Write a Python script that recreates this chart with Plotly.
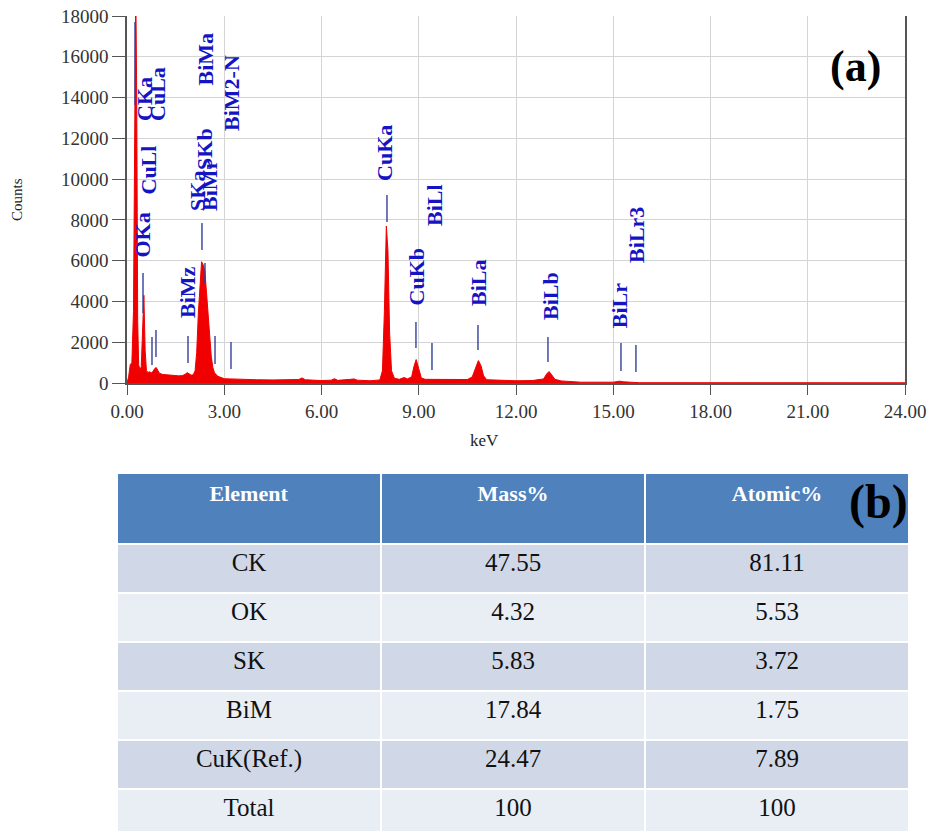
import plotly.graph_objects as go

# ---- EDS spectrum (energy in keV, counts) ----
energy_kev = [
    0.00, 0.05, 0.10, 0.15, 0.20, 0.24, 0.27, 0.30, 0.33, 0.36, 0.40, 0.44, 0.48, 0.52,
    0.56, 0.60, 0.65, 0.70, 0.75, 0.80, 0.85, 0.90, 0.95, 1.00, 1.10, 1.20, 1.30, 1.40,
    1.50, 1.60, 1.70, 1.80, 1.85, 1.90, 1.95, 2.00, 2.05, 2.10, 2.15, 2.20, 2.25, 2.30,
    2.35, 2.40, 2.45, 2.50, 2.55, 2.60, 2.65, 2.70, 2.80, 2.90, 3.00, 3.20, 3.50, 4.00,
    4.50, 5.00, 5.30, 5.40, 5.50, 6.00, 6.30, 6.40, 6.50, 6.90, 7.00, 7.10, 7.50, 7.80,
    7.88, 7.94, 8.00, 8.05, 8.10, 8.16, 8.25, 8.40, 8.55, 8.65, 8.78, 8.85, 8.92, 9.00,
    9.08, 9.20, 9.50, 10.00, 10.50, 10.65, 10.75, 10.84, 10.92, 11.00, 11.10, 11.50,
    12.00, 12.50, 12.85, 12.95, 13.02, 13.10, 13.20, 13.40, 13.70, 14.00, 15.00, 15.20,
    15.30, 15.70, 15.80, 24.00,
]
counts = [
    0, 300, 900, 1000, 3500, 12000, 19500, 14000, 3000, 900, 650, 800, 2500, 4300,
    1600, 600, 520, 550, 500, 560, 700, 760, 620, 480, 420, 400, 390, 370,
    360, 350, 360, 430, 510, 480, 420, 380, 420, 600, 1500, 3400, 5000, 5950,
    5800, 5500, 4500, 3300, 2200, 1300, 750, 500, 330, 250, 210, 200, 180, 160,
    150, 140, 170, 250, 160, 120, 140, 210, 130, 180, 200, 140, 110, 150,
    600, 3500, 7700, 6500, 2500, 600, 230, 180, 270, 200, 300, 800, 1150, 700,
    250, 180, 170, 150, 170, 300, 700, 1100, 850, 350, 160, 130,
    110, 120, 200, 450, 560, 400, 180, 100, 80, 40, 40, 90,
    60, 40, 15, 10,
]

# ---- peak identification: marker line energy and its count span ----
marker_names = ["CKa", "OKa", "CuLl", "CuLa", "BiMz", "SKa", "BiMa", "BiMr", "BiM2-N",
                "CuKa", "CuKb", "BiLl", "BiLa", "BiLb", "BiLr", "BiLr3"]
marker_kev = [0.247, 0.494, 0.771, 0.894, 1.882, 2.313, 2.406, 2.715, 3.208,
              8.020, 8.914, 9.408, 10.827, 12.986, 15.238, 15.700]
marker_low = [13636, 3434, 883, 1275, 981, 6524, 4905, 932, 687,
              7897, 1717, 638, 1619, 1030, 589, 540]
marker_high = [17707, 5396, 2256, 2600, 2305, 7848, 5886, 2305, 2011,
               9221, 2992, 1962, 2845, 2256, 1962, 1864]

# ---- peak label text: centre energy and the count level of the text foot ----
label_text = ["CKa", "CuLa", "CuLl", "OKa", "BiMz", "SKa", "BiMr", "SKb", "BiMa", "BiM2-N",
              "CuKa", "CuKb", "BiLl", "BiLa", "BiLb", "BiLr", "BiLr3"]
label_kev = [0.555, 0.956, 0.648, 0.463, 1.851, 2.19, 2.56, 2.406, 2.406, 3.239,
             7.958, 8.945, 9.500, 10.858, 13.05, 15.20, 15.73]
label_base = [12753, 12753, 9123, 6033, 3090, 8339, 8339, 10350, 14519, 12263,
              9810, 3728, 7603, 3679, 2992, 2600, 5788]

# ---- quantification table ----
elements = ["CK", "OK", "SK", "BiM", "CuK(Ref.)", "Total"]
mass_pct = [47.55, 4.32, 5.83, 17.84, 24.47, 100]
atomic_pct = [81.11, 5.53, 3.72, 1.75, 7.89, 100]
header_cols = ["Element", "Mass%", "Atomic%"]

x_ticks = [0, 3, 6, 9, 12, 15, 18, 21, 24]
y_ticks = [0, 2000, 4000, 6000, 8000, 10000, 12000, 14000, 16000, 18000]

W, H = 931, 831
SERIF = "Liberation Serif, Times New Roman, serif"
BLUE = "#1414c4"


def px_x(p):
    return p / W


def px_y(p):
    return 1 - p / H


fig = go.Figure()

fig.add_trace(go.Scatter(
    x=energy_kev, y=counts, mode="lines",
    line=dict(color="#f00000", width=1),
    fill="tozeroy", fillcolor="#f00000",
    hoverinfo="skip", showlegend=False, cliponaxis=True,
))

mx, my = [], []
for k, lo, hi in zip(marker_kev, marker_low, marker_high):
    mx += [k, k, None]
    my += [lo, hi, None]
fig.add_trace(go.Scatter(
    x=mx, y=my, mode="lines",
    line=dict(color="#33409a", width=1.4),
    hoverinfo="skip", showlegend=False,
))

annotations = []
for t, k, b in zip(label_text, label_kev, label_base):
    annotations.append(dict(
        x=k, y=b, xref="x", yref="y", text=f"<b>{t}</b>", showarrow=False,
        textangle=-90, xanchor="center", yanchor="bottom",
        font=dict(family=SERIF, size=22, color=BLUE),
    ))

annotations += [
    dict(x=px_x(17), y=px_y(200), xref="paper", yref="paper", text="Counts",
         showarrow=False, textangle=-90, xanchor="center", yanchor="middle",
         font=dict(family=SERIF, size=15, color="#222")),
    dict(x=px_x(485), y=px_y(440), xref="paper", yref="paper", text="keV",
         showarrow=False, xanchor="center", yanchor="middle",
         font=dict(family=SERIF, size=17, color="#222")),
    dict(x=px_x(855), y=px_y(66), xref="paper", yref="paper", text="<b>(a)</b>",
         showarrow=False, xanchor="center", yanchor="middle",
         font=dict(family=SERIF, size=44, color="#000")),
    dict(x=px_x(878), y=px_y(502), xref="paper", yref="paper", text="<b>(b)</b>",
         showarrow=False, xanchor="center", yanchor="middle",
         font=dict(family=SERIF, size=48, color="#000")),
]


def fmt(v):
    return f"{v:g}"


row_fill = ["#d0d8e8" if i % 2 == 0 else "#e9edf4" for i in range(len(elements))]

fig.add_trace(go.Table(
    domain=dict(x=[px_x(117), px_x(909)], y=[0, px_y(473)]),
    columnwidth=[1, 1, 1],
    header=dict(
        values=[f"<b>{h}</b>" for h in header_cols],
        fill_color="#4f81bd",
        line=dict(color="white", width=2),
        align="center", height=71,
        font=dict(family=SERIF, size=22, color="white"),
    ),
    cells=dict(
        values=[elements, [fmt(v) for v in mass_pct], [fmt(v) for v in atomic_pct]],
        fill_color=[row_fill, row_fill, row_fill],
        line=dict(color="white", width=2),
        align="center", height=49,
        font=dict(family=SERIF, size=25, color="#111"),
    ),
))

fig.update_layout(
    width=W, height=H,
    margin=dict(l=0, r=0, t=0, b=0, autoexpand=False),
    paper_bgcolor="white", plot_bgcolor="white",
    showlegend=False,
    annotations=annotations,
    xaxis=dict(
        domain=[px_x(127), px_x(905)], range=[0, 24],
        tickvals=x_ticks, tickformat=".2f", automargin=False,
        showgrid=True, gridcolor="#d4d4d4", gridwidth=1,
        showline=True, linecolor="#555", linewidth=1.5,
        ticks="outside", ticklen=10, tickcolor="#555",
        tickfont=dict(family=SERIF, size=19, color="#333"),
        zeroline=False, fixedrange=True,
    ),
    yaxis=dict(
        domain=[px_y(383), px_y(16)], range=[0, 18000],
        tickvals=y_ticks, tickformat="d", automargin=False,
        showgrid=True, gridcolor="#d4d4d4", gridwidth=1,
        showline=True, linecolor="#555", linewidth=1.5, mirror=True,
        ticks="outside", ticklen=13, tickcolor="#555",
        tickfont=dict(family=SERIF, size=19, color="#333"),
        zeroline=False, fixedrange=True,
    ),
)

fig.write_html("out.html")
